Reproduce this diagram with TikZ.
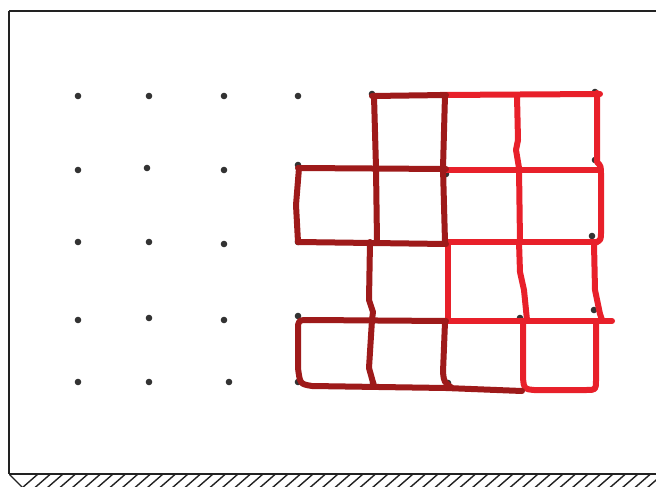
\documentclass[tikz,border=0pt]{standalone}
\definecolor{dred}{HTML}{9E1A1A}
\definecolor{bred}{HTML}{E8202A}
\definecolor{dotc}{HTML}{333333}
\definecolor{framec}{HTML}{222222}
\tikzset{
  dredline/.style={draw=dred, line width=6pt, line cap=round, line join=round},
  bredline/.style={draw=bred, line width=6pt, line cap=round, line join=round},
  gdot/.style={fill=dotc, draw=none},
  frameline/.style={draw=framec, line width=2pt},
  hatchline/.style={draw=framec, line width=1.4pt}
}
\begin{document}
\begin{tikzpicture}[x=1pt,y=-1pt]
\useasboundingbox (0,0) rectangle (656,487);
\fill[white] (0,0) rectangle (656,487);
% frame
\draw[frameline] (9,11) -- (656,11);
\draw[frameline] (9,11) -- (9,474);
\draw[frameline] (9,474) -- (656,474);
\begin{scope}
\clip (9,474) rectangle (656,487);
\draw[hatchline] (9,474) -- (22,487);
\foreach \x in {22,34.5,...,670} {
  \draw[hatchline] (\x,488) -- (\x+16,474);
}
\end{scope}
% dots
\foreach \p in {(78,96),(149,96),(224,96),(298,96),
                (78,170),(147,168),(224,170),(298,165),
                (78,242),(149,242),(224,244),(298,242),
                (78,320),(149,318),(224,320),(298,316),
                (78,382),(149,382),(229,382),(298,382),
                (372,94),(373,383),(448,383),(520,318),(446,174),
                (595,92),(595,160),(592,236),(594,310)} {
  \fill[gdot] \p circle (3.3pt);
}
% bright red shape
\draw[bredline] (440,95) -- (600,94);
\draw[bredline] (517,96) -- (518,140) -- (516,150) -- (519,168) -- (520,242);
\draw[bredline] (597,93) -- (597,162) .. controls (601,166) .. (601,176) -- (601,232) .. controls (601,240) .. (595,243);
\draw[bredline] (446,170) -- (600,170);
\draw[bredline] (446,242) -- (597,242);
\draw[bredline] (448,242) -- (448,320);
\draw[bredline] (519,242) -- (520,272) -- (524,290) -- (527,320);
\draw[bredline] (594,244) -- (595,290) -- (600,314) -- (602,320);
\draw[bredline] (446,321) -- (612,321);
\draw[bredline] (523,321) -- (523,378) .. controls (524,389) .. (534,390) -- (586,390) .. controls (596,390) .. (596,380) -- (596,322);
% dark red shape
\draw[dredline] (372,96) -- (446,95);
\draw[dredline] (445,95) -- (443,168) -- (445,242);
\draw[dredline] (374,96) -- (376,168) -- (377,242);
\draw[dredline] (370,242) -- (369,300) -- (373,312) -- (372,320) -- (369,368) -- (374,386);
\draw[dredline] (298,168) -- (446,169);
\draw[dredline] (299,168) -- (296,205) -- (298,242);
\draw[dredline] (298,242) -- (446,244);
\draw[dredline] (310,320) -- (446,321);
\draw[dredline] (310,320) .. controls (298,320) .. (298,330) -- (298,368) .. controls (300,384) .. (312,386) -- (446,388) -- (522,391);
\draw[dredline] (445,322) -- (443,372) .. controls (444,382) .. (452,388);
\end{tikzpicture}
\end{document}
